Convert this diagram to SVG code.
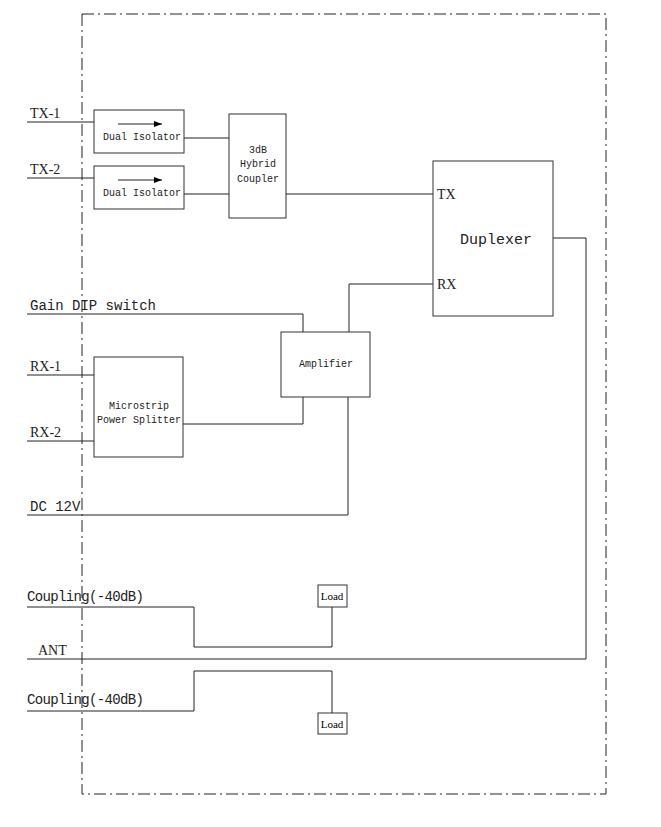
<svg xmlns="http://www.w3.org/2000/svg" width="661" height="827" viewBox="0 0 661 827">
<style>
.b{fill:#fff;stroke:#333;stroke-width:1}
.l{fill:none;stroke:#222;stroke-width:1}
.t{font-family:"Liberation Serif",serif;font-size:14px;fill:#222}
.mo{font-family:"Liberation Mono",monospace;font-size:14px;fill:#222}
.m{font-family:"Liberation Mono",monospace;font-size:10px;fill:#222}
</style>
<defs><marker id="a" markerWidth="8" markerHeight="6" refX="8" refY="3" orient="auto" markerUnits="userSpaceOnUse"><path d="M0,0L8,3L0,6z" fill="#000"/></marker></defs>
<rect x="0" y="0" width="661" height="827" fill="#fff"/>
<rect x="82" y="14" width="524" height="780" fill="none" stroke="#222" stroke-dasharray="12,4,2,4"/>
<g id="connectors" class="l">
<path d="M27,122H94M27,178H94M184,138H229M184,194H229M286,194H433"/>
<path d="M553,238H586V659H27"/>
<path d="M433,284H349V332"/>
<path d="M27,314H303V332"/>
<path d="M27,375H94M27,441H94M183,424H303V397"/>
<path d="M27,515H348V397"/>
<path d="M27,607H194V647H332V607"/>
<path d="M27,711H194V671H332V713"/>
</g>
<g id="iso1"><rect class="b" x="94" y="110" width="90" height="43"/><path class="l" d="M118,124H162" marker-end="url(#a)"/><text class="m" x="142" y="140" text-anchor="middle">Dual Isolator</text></g>
<g id="iso2"><rect class="b" x="94" y="166" width="90" height="43"/><path class="l" d="M118,180H162" marker-end="url(#a)"/><text class="m" x="142" y="196" text-anchor="middle">Dual Isolator</text></g>
<g id="coupler"><rect class="b" x="229" y="114" width="57" height="104"/>
<text class="m" x="258" y="153" text-anchor="middle">3dB</text><text class="m" x="258" y="167" text-anchor="middle">Hybrid</text><text class="m" x="258" y="182" text-anchor="middle">Coupler</text></g>
<g id="duplexer"><rect class="b" x="433" y="161" width="120" height="155"/>
<text class="t" x="437" y="199">TX</text><text class="t" x="437" y="289">RX</text>
<text x="496" y="244" text-anchor="middle" style="font-family:'Liberation Mono',monospace;font-size:15px;fill:#222">Duplexer</text></g>
<g id="amp"><rect class="b" x="281" y="332" width="89" height="65"/><text class="m" x="326" y="367" text-anchor="middle">Amplifier</text></g>
<g id="splitter"><rect class="b" x="94" y="357" width="89" height="100"/>
<text class="m" x="139" y="409" text-anchor="middle">Microstrip</text><text class="m" x="139" y="423" text-anchor="middle">Power Splitter</text></g>
<g id="load1"><rect class="b" x="318" y="585" width="29" height="22"/><text x="332" y="600" text-anchor="middle" style="font-family:'Liberation Serif',serif;font-size:11px">Load</text></g>
<g id="load2"><rect class="b" x="318" y="713" width="29" height="21"/><text x="332" y="728" text-anchor="middle" style="font-family:'Liberation Serif',serif;font-size:11px">Load</text></g>
<g id="labels">
<text class="t" x="30" y="118">TX-1</text><text class="t" x="30" y="174">TX-2</text>
<text class="mo" x="30" y="310">Gain DIP switch</text>
<text class="t" x="30" y="371">RX-1</text><text class="t" x="30" y="437">RX-2</text>
<text class="mo" x="30" y="511">DC 12V</text>
<text class="mo" x="27" y="601" textLength="117">Coupling(-40dB)</text>
<text class="t" x="38" y="655">ANT</text>
<text class="mo" x="27" y="704" textLength="117">Coupling(-40dB)</text>
</g>
</svg>
